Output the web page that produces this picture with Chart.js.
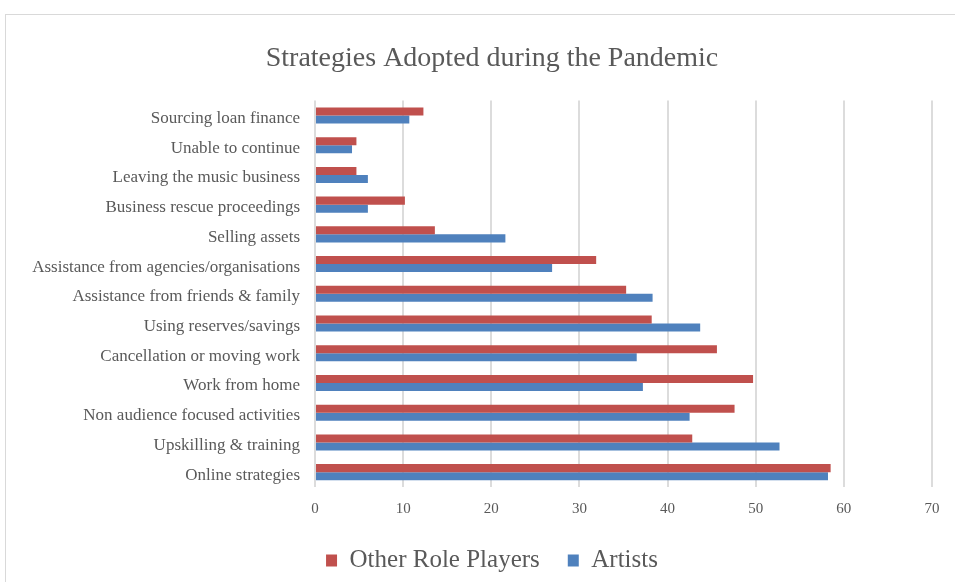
<!DOCTYPE html>
<html>
<head>
<meta charset="utf-8">
<script src="https://cdn.jsdelivr.net/npm/chart.js@4"></script>
<style>
  html, body { margin: 0; padding: 0; background: #fff; overflow: hidden; }
  #box {
    position: absolute; left: 5px; top: 14px;
    width: 972px; height: 568px;
    border: 1px solid #d9d9d9;
  }
</style>
</head>
<body>
<div id="box"><canvas id="strategiesChart"></canvas></div>
<script>
// --- data ---
const categories = [
  "Sourcing loan finance",
  "Unable to continue",
  "Leaving the music business",
  "Business rescue proceedings",
  "Selling assets",
  "Assistance from agencies/organisations",
  "Assistance from friends & family",
  "Using reserves/savings",
  "Cancellation or moving work",
  "Work from home",
  "Non audience focused activities",
  "Upskilling & training",
  "Online strategies"
];
const otherRolePlayers = [12.3, 4.7, 4.7, 10.2, 13.6, 31.9, 35.3, 38.2, 45.6, 49.7, 47.6, 42.8, 58.5];
const artists = [10.7, 4.2, 6.0, 6.0, 21.6, 26.9, 38.3, 43.7, 36.5, 37.2, 42.5, 52.7, 58.2];
const xTicks = [0, 10, 20, 30, 40, 50, 60, 70];

const textColor = "#595959";
const serif = "'Liberation Serif', 'Times New Roman', serif";

const ctx = document.getElementById("strategiesChart");
new Chart(ctx, {
  type: "bar",
  data: {
    labels: categories,
    datasets: [
      {
        label: "Other Role Players",
        data: otherRolePlayers,
        backgroundColor: "#C0504D",
        barPercentage: 1.0,
        categoryPercentage: 0.54,
      },
      {
        label: "Artists",
        data: artists,
        backgroundColor: "#4F81BD",
        barPercentage: 1.0,
        categoryPercentage: 0.54,
      },
    ],
  },
  options: {
    indexAxis: "y",
    responsive: true,
    maintainAspectRatio: false,
    animation: false,
    plugins: {
      title: {
        display: true,
        text: "Strategies Adopted during the Pandemic",
        color: textColor,
        font: { family: serif, size: 28, weight: "normal" },
        padding: { top: 27, bottom: 25 },
      },
      legend: {
        position: "bottom",
        labels: {
          color: textColor,
          font: { family: serif, size: 25 },
          boxWidth: 11,
          boxHeight: 12,
          padding: 28,
        },
      },
      tooltip: { enabled: false },
    },
    scales: {
      x: {
        min: 0,
        max: 70,
        afterBuildTicks: function (scale) {
          scale.ticks = xTicks.map(function (v) { return { value: v }; });
        },
        afterFit: function (scale) {
          scale.height = 33;
        },
        grid: { color: "#dcdcdc", lineWidth: 2, drawTicks: false },
        border: { display: false },
        ticks: {
          color: textColor,
          font: { family: serif, size: 15 },
          padding: 13,
        },
      },
      y: {
        grid: { display: false, drawTicks: false },
        border: { display: false },
        afterFit: function (scale) {
          scale.width = 309;
        },
        ticks: {
          color: textColor,
          font: { family: serif, size: 17 },
          padding: 15,
          labelOffset: 3,
          autoSkip: false,
        },
      },
      // empty right-hand axis: keeps space right of the plot without shifting title/legend
      yRight: {
        axis: "y",
        type: "category",
        position: "right",
        grid: { display: false, drawTicks: false },
        border: { display: false },
        ticks: { display: false },
        afterFit: function (scale) {
          scale.width = 46;
        },
      },
    },
  },
});
</script>
</body>
</html>
